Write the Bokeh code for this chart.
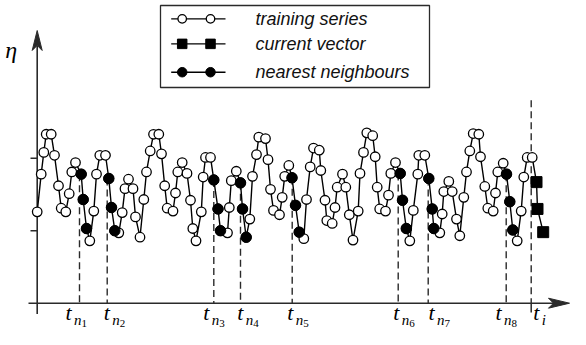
from bokeh.plotting import figure
from bokeh.models import Range1d
from bokeh.core.properties import value
from bokeh.embed import file_html
from bokeh.resources import INLINE

# ---- data (t: time units, eta: series value) ----
series_t = [0.0, 4.0, 6.6, 9.0, 14.0, 17.3, 21.3, 24.0, 28.6, 32.0, 34.6, 38.3,
            44.0, 46.0, 49.3, 52.6, 56.6, 59.3, 62.6, 68.3, 71.6, 74.3, 77.6, 81.6,
            85.0, 87.8, 91.3, 95.8, 98.3, 102.8, 106.6, 109.3, 113.0, 116.3, 121.6, 124.3,
            127.5, 130.0, 135.8, 138.3, 140.6, 145.0, 149.8, 153.3, 155.6, 158.8, 164.1, 166.0,
            168.3, 173.3, 176.6, 180.8, 183.3, 190.3, 192.1, 194.1, 199.1, 203.3, 205.3, 209.0,
            212.6, 215.3, 219.3, 221.6, 228.3, 230.8, 233.3, 236.3, 242.3, 245.0, 247.5, 251.6,
            254.8, 258.3, 262.0, 266.6, 269.3, 273.0, 276.3, 282.1, 283.6, 287.8, 289.6, 295.0,
            297.8, 300.0, 305.3, 308.6, 312.1, 315.8, 321.0, 322.8, 326.3, 329.6, 335.5, 338.0,
            340.0, 342.5, 348.3, 351.3, 353.6, 358.3, 363.0, 365.3, 369.1, 372.6, 376.1, 380.6,
            381.6, 387.6, 391.6, 395.0, 396.6, 402.6, 405.0, 406.6, 411.6, 415.0, 419.3, 422.6,
            426.6, 429.3, 432.6, 436.0, 441.6, 443.3, 447.6, 450.6, 456.0, 458.3, 460.6, 466.0,
            469.3, 472.6, 475.6, 480.0, 484.0, 486.6, 490.0, 495.0, 499.3, 500.3, 506.0]
series_eta = [1.26, 1.78, 2.08, 2.33, 2.33, 2.04, 1.62, 1.31, 1.26, 1.51, 1.81, 1.94,
              1.78, 1.43, 1.03, 0.86, 1.27, 1.78, 2.04, 2.04, 1.72, 1.32, 1.00, 0.97,
              1.25, 1.58, 1.71, 1.58, 1.19, 0.91, 1.43, 1.81, 2.10, 2.33, 2.33, 2.06,
              1.62, 1.31, 1.27, 1.52, 1.81, 1.94, 1.79, 1.42, 1.03, 0.86, 1.26, 1.74,
              2.01, 2.01, 1.70, 1.30, 1.00, 0.97, 1.32, 1.69, 1.82, 1.66, 1.30, 0.91,
              1.16, 1.75, 2.05, 2.29, 2.27, 1.98, 1.57, 1.28, 1.22, 1.46, 1.75, 1.90,
              1.73, 1.35, 0.98, 0.89, 1.43, 1.88, 2.14, 2.11, 1.83, 1.42, 1.14, 1.10,
              1.32, 1.60, 1.78, 1.60, 1.22, 0.87, 1.27, 1.79, 2.08, 2.35, 2.31, 2.02,
              1.60, 1.30, 1.27, 1.49, 1.79, 1.94, 1.79, 1.42, 1.03, 0.86, 1.28, 1.78,
              2.04, 2.04, 1.72, 1.30, 1.03, 0.97, 1.23, 1.54, 1.68, 1.54, 1.16, 0.93,
              1.46, 1.81, 2.10, 2.34, 2.33, 2.02, 1.61, 1.31, 1.27, 1.52, 1.81, 1.93,
              1.78, 1.40, 1.01, 0.86, 1.27, 1.74, 2.01, 2.01, 1.67, 1.30, 0.98]

neighbour_start = [12, 20, 50, 57, 72, 102, 110, 132]   # indices into the series
current_start = 140
window = 3

neighbour_t = [42.3, 70.0, 176.6, 203.3, 255.0, 361.0, 391.0, 469.0]  # dashed lines
current_t = 494.0
current_line_top = 2.80

label_t = [28.3, 66.6, 166.0, 200.0, 250.0, 356.0, 391.3, 458.3, 496.0]
label_sub = ["n", "n", "n", "n", "n", "n", "n", "n", "i"]
label_num = ["1", "2", "3", "4", "5", "6", "7", "8", ""]

eta_ticks = [1, 2]

legend_labels = ["training series", "current vector", "nearest neighbours"]

# ---- figure: frame = whole canvas ----
p = figure(width=570, height=329, x_range=Range1d(-36.7, 533.3),
           y_range=Range1d(-0.3628, 4.1752), x_axis_type=None, y_axis_type=None,
           output_backend="svg", toolbar_location=None, min_border=0)
p.grid.visible = False
p.outline_line_color = None
p.background_fill_color = "white"

AX = "#2a2a2a"
serif = value("Liberation Serif")
sans = value("Liberation Sans")

# axes
p.segment(x0=[-8.7], y0=[0], x1=[518], y1=[0], line_color=AX, line_width=1.6)
p.patch(x=[532.3, 511.3, 516.3, 511.3], y=[0, 0.069, 0, -0.069], fill_color=AX, line_color=AX)
p.segment(x0=[0], y0=[-0.15], x1=[0], y1=[3.55], line_color=AX, line_width=1.6)
p.patch(x=[0, -5, 0, 5], y=[3.761, 3.486, 3.555, 3.486], fill_color=AX, line_color=AX)
p.segment(x0=[-6.7] * len(eta_ticks), y0=eta_ticks, x1=[0] * len(eta_ticks), y1=eta_ticks,
          line_color=AX, line_width=1.5)

# dashed lines
nb_top = [series_eta[i] for i in neighbour_start]
p.segment(x0=neighbour_t, y0=nb_top, x1=neighbour_t, y1=[0] * len(neighbour_t),
          line_color=AX, line_width=1.4, line_dash="7 4")
p.segment(x0=[current_t], y0=[current_line_top], x1=[current_t], y1=[0],
          line_color=AX, line_width=1.4, line_dash="7 4")
p.segment(x0=[current_t], y0=[0], x1=[current_t], y1=[-0.13], line_color=AX, line_width=1.5)

# series
p.line(series_t, series_eta, line_color="black", line_width=1.4)
train_idx = [i for i in range(len(series_t)) if i < current_start]
p.scatter([series_t[i] for i in train_idx], [series_eta[i] for i in train_idx],
          marker="circle", size=9.5, fill_color="white", line_color="black", line_width=1.3)
nb_idx = [s + k for s in neighbour_start for k in range(window)]
p.scatter([series_t[i] for i in nb_idx], [series_eta[i] for i in nb_idx],
          marker="circle", size=10.5, fill_color="black", line_color="black")
cv_idx = [current_start + k for k in range(window)]
p.scatter([series_t[i] for i in cv_idx], [series_eta[i] for i in cv_idx],
          marker="square", size=11, fill_color="black", line_color="black")

# axis labels
n = len(label_t)
p.text(x=label_t, y=[-0.135] * n, text=["t"] * n, text_font=serif, text_font_style="italic",
       text_font_size="22px", text_baseline="middle", text_align="left", text_color="black")
p.text(x=[t + 8.5 for t in label_t], y=[-0.236] * n, text=label_sub, text_font=serif,
       text_font_style="italic", text_font_size="15px", text_baseline="middle",
       text_align="left", text_color="black")
p.text(x=[t + 16.0 for t in label_t], y=[-0.284] * n, text=label_num, text_font=serif,
       text_font_size="11px", text_baseline="middle", text_align="left", text_color="black")
p.text(x=[-32.0], y=[3.49], text=["η"], text_font=serif, text_font_style="italic",
       text_font_size="24px", text_baseline="alphabetic", text_align="left", text_color="black")

# legend box
p.quad(left=[123.3], right=[392.3], top=[4.106], bottom=[2.975], fill_color="white",
       line_color=AX, line_width=1.3)
row_eta = [3.922, 3.577, 3.186]
for r in row_eta:
    p.line([134, 188.3], [r, r], line_color="black", line_width=1.4)
p.scatter([145, 173.3], [row_eta[0]] * 2, marker="circle", size=8.5, fill_color="white",
          line_color="black", line_width=1.3)
p.scatter([145, 173.3], [row_eta[1]] * 2, marker="square", size=9.5, fill_color="black",
          line_color="black")
p.scatter([145, 173.3], [row_eta[2]] * 2, marker="circle", size=9.5, fill_color="black",
          line_color="black")
p.text(x=[218.3] * 3, y=row_eta, text=legend_labels, text_font=sans, text_font_style="italic",
       text_font_size="18px", text_baseline="middle", text_align="left", text_color="#111111")

open("out.html", "w").write(file_html(p, INLINE))
